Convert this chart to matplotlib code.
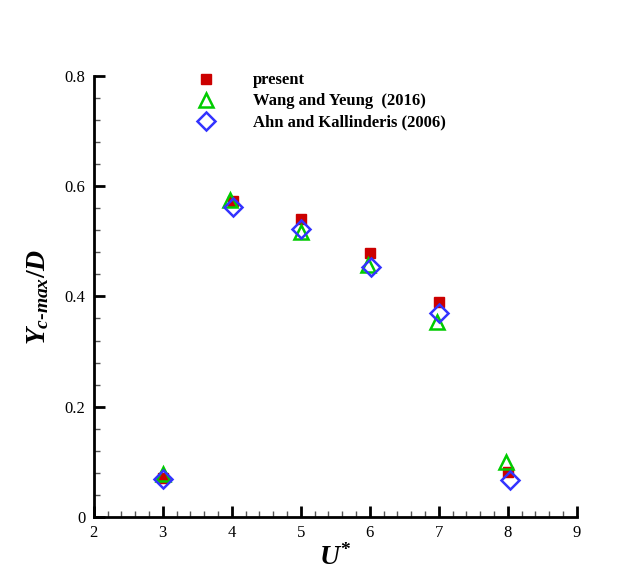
import matplotlib
matplotlib.use('Agg')
import matplotlib.pyplot as plt
from matplotlib.ticker import MultipleLocator

# data
u_present = [3.0, 4.02, 5.0, 6.0, 7.0, 8.0]
y_present = [0.070, 0.573, 0.541, 0.479, 0.390, 0.082]

u_wang = [3.0, 3.97, 5.0, 5.98, 6.97, 7.97]
y_wang = [0.077, 0.575, 0.517, 0.457, 0.354, 0.100]

u_ahn = [3.0, 4.02, 5.0, 6.02, 7.0, 8.03]
y_ahn = [0.068, 0.562, 0.522, 0.453, 0.370, 0.067]

labels = ['present', 'Wang and Yeung  (2016)', 'Ahn and Kallinderis (2006)']

plt.rcParams['font.family'] = ['Liberation Serif', 'DejaVu Serif']
plt.rcParams['mathtext.fontset'] = 'custom'
plt.rcParams['mathtext.it'] = 'Liberation Serif:italic:bold'
plt.rcParams['mathtext.rm'] = 'Liberation Serif:bold'
plt.rcParams['mathtext.bf'] = 'Liberation Serif:bold'

fig = plt.figure(figsize=(6.38, 5.75), dpi=100)
ax = fig.add_axes([0.147, 0.101, 0.757, 0.767])

ax.plot(u_present, y_present, 's', color='#cc0000', markersize=7, label=labels[0], zorder=3)
ax.plot(u_wang, y_wang, '^', color='#00cc00', markerfacecolor='none', markersize=10,
        markeredgewidth=1.8, label=labels[1], zorder=4)
ax.plot(u_ahn, y_ahn, 'D', color='#3333ff', markerfacecolor='none', markersize=9,
        markeredgewidth=1.8, label=labels[2], zorder=5)

ax.set_xlim(2, 9)
ax.set_ylim(0, 0.8)
ax.xaxis.set_major_locator(MultipleLocator(1))
ax.xaxis.set_minor_locator(MultipleLocator(0.2))
ax.yaxis.set_major_locator(MultipleLocator(0.2))
ax.yaxis.set_minor_locator(MultipleLocator(0.04))
ax.set_yticks([0, 0.2, 0.4, 0.6, 0.8])
ax.set_yticklabels(['0', '0.2', '0.4', '0.6', '0.8'])

for s in ['top', 'right']:
    ax.spines[s].set_visible(False)
for s in ['left', 'bottom']:
    ax.spines[s].set_linewidth(2)

ax.tick_params(which='major', direction='in', length=8, width=2, labelsize=12, pad=6)
ax.tick_params(which='minor', direction='in', length=4, width=1, color='#555555')

ax.set_xlabel(r'$U^{*}$', fontsize=20, labelpad=2)
ax.set_ylabel(r'$Y_{c\text{-}max}/D$', fontsize=20, labelpad=10)

leg = ax.legend(loc='upper left', bbox_to_anchor=(0.175, 1.042), frameon=False,
                prop={'weight': 'bold', 'size': 12}, handletextpad=2.1,
                labelspacing=0.3, handlelength=1.5)

plt.savefig('out.png', dpi=100, facecolor='white')
plt.close()
